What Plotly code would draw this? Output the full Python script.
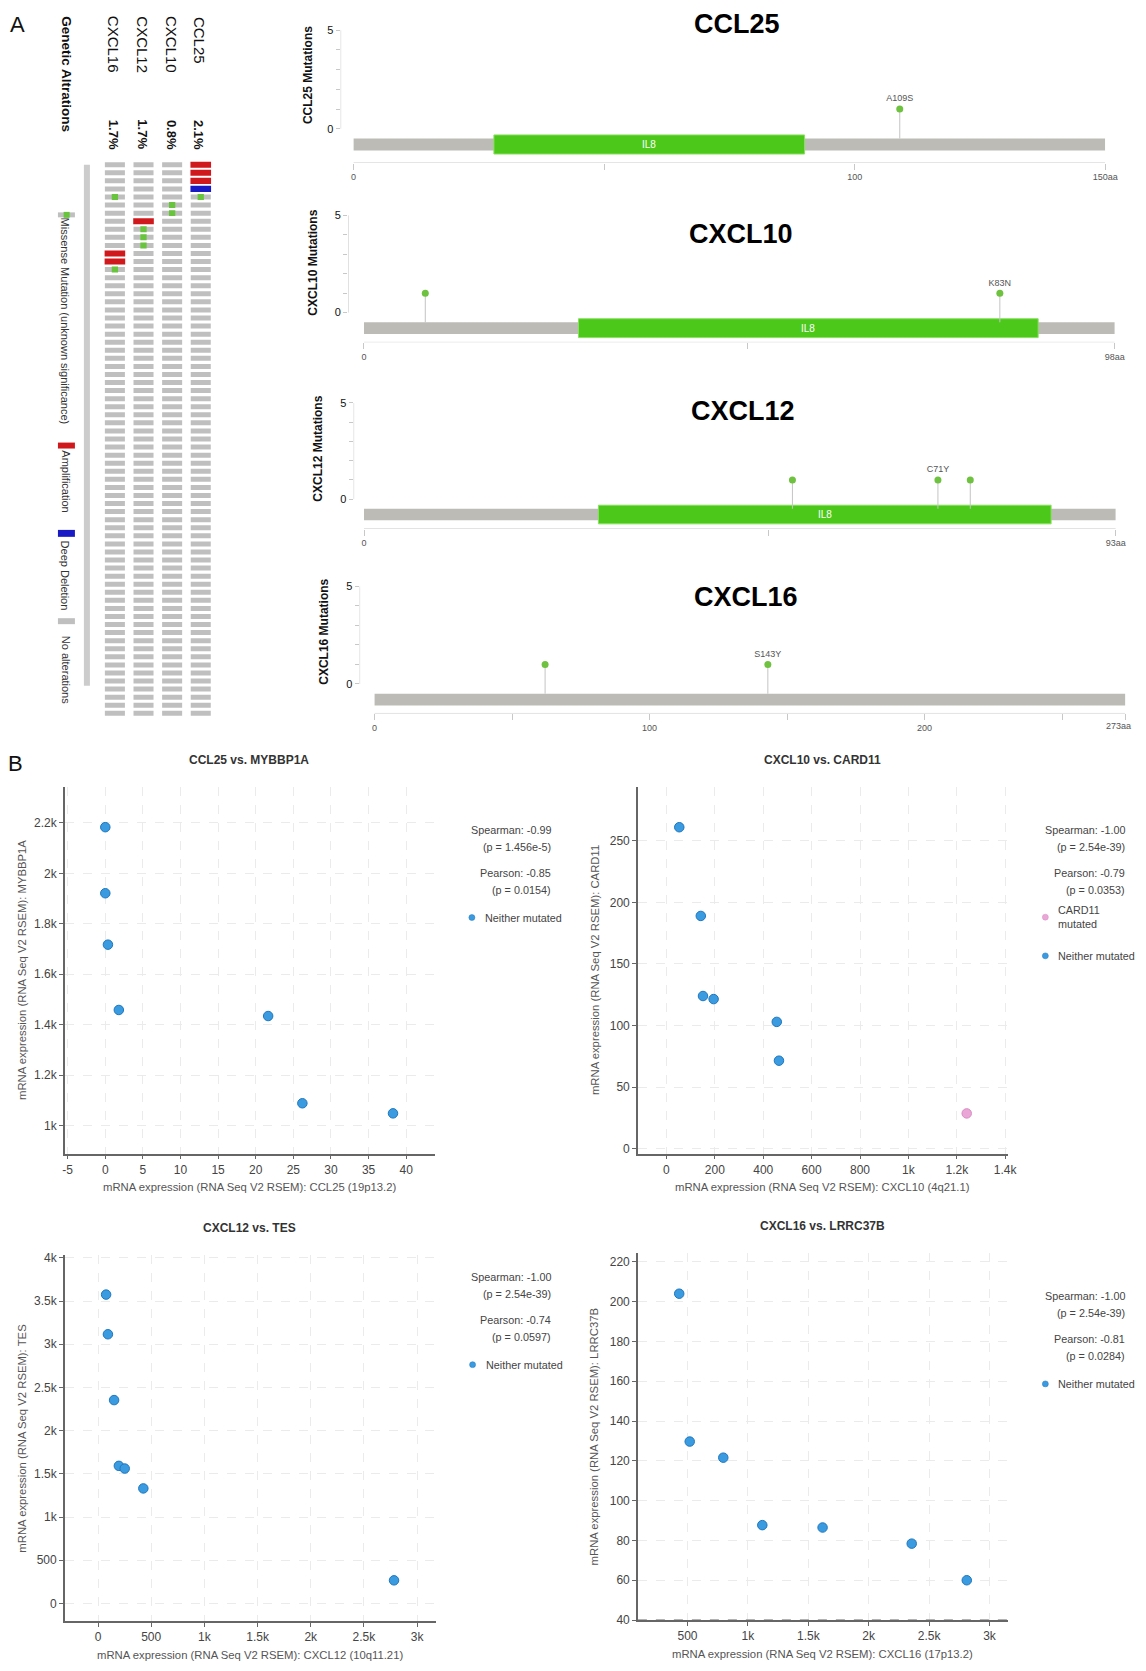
import plotly.graph_objects as go

W, H = 1146, 1671
FONT = "Liberation Sans, Arial, sans-serif"
KX = 1.0 / 0.988   # horizontal correction measured on the rendered page

# ------------------------------------------------------------------ data
onco_genes = ["CXCL16", "CXCL12", "CXCL10", "CCL25"]
onco_pct = ["1.7%", "1.7%", "0.8%", "2.1%"]
n_samples = 69
amp_gene = ["CCL25", "CCL25", "CCL25", "CXCL12", "CXCL16", "CXCL16"]
amp_sample = [0, 1, 2, 7, 11, 12]
del_gene = ["CCL25"]
del_sample = [3]
mis_gene = ["CCL25", "CXCL16", "CXCL10", "CXCL10", "CXCL12", "CXCL12", "CXCL12", "CXCL16"]
mis_sample = [4, 4, 5, 6, 8, 9, 10, 13]
onco_legend = ["Missense Mutation (unknown significance)", "Amplification",
               "Deep Deletion", "No alterations"]

lp_genes = ["CCL25", "CXCL10", "CXCL12", "CXCL16"]
lp_length = [150, 98, 93, 273]
lp_dom_start = [28, 28, 29, None]
lp_dom_end = [90, 88, 85, None]
lp_dom_name = ["IL8", "IL8", "IL8", None]
lp_mut_pos = [[109], [8, 83], [53, 71, 75], [62, 143]]
lp_mut_cnt = [[1], [1, 1], [1, 1, 1], [1, 1]]
lp_mut_lab = [["A109S"], ["", "K83N"], ["", "C71Y", ""], ["", "S143Y"]]
lp_xtick_vals = [[0, 50, 100, 150], [0, 50, 98], [0, 50, 93],
                 [0, 50, 100, 150, 200, 250, 273]]
lp_xtick_text = [["0", "", "100", "150aa"], ["0", "", "98aa"], ["0", "", "93aa"],
                 ["0", "", "100", "", "200", "", ""]]
lp_end_label = [None, None, None, "273aa"]
lp_ytick_vals = [0, 1, 2, 3, 4, 5]
lp_ytick_text = ["0", "", "", "", "", "5"]

sc_titles = ["CCL25 vs. MYBBP1A", "CXCL10 vs. CARD11", "CXCL12 vs. TES", "CXCL16 vs. LRRC37B"]
sc_xtitles = ["mRNA expression (RNA Seq V2 RSEM): CCL25 (19p13.2)",
              "mRNA expression (RNA Seq V2 RSEM): CXCL10 (4q21.1)",
              "mRNA expression (RNA Seq V2 RSEM): CXCL12 (10q11.21)",
              "mRNA expression (RNA Seq V2 RSEM): CXCL16 (17p13.2)"]
sc_ytitles = ["mRNA expression (RNA Seq V2 RSEM): MYBBP1A",
              "mRNA expression (RNA Seq V2 RSEM): CARD11",
              "mRNA expression (RNA Seq V2 RSEM): TES",
              "mRNA expression (RNA Seq V2 RSEM): LRRC37B"]
ccl25_expr = [0.0, 0.0, 0.35, 1.8, 21.65, 26.2, 38.25]
mybbp1a_expr = [2183, 1921, 1717, 1458, 1434, 1088, 1048]
cxcl10_expr = [53, 142, 151, 195, 456, 465]
card11_expr = [261, 189, 124, 121.5, 103, 71.5]
cxcl10_expr_card11mut = [1241]
card11_expr_card11mut = [28.7]
cxcl12_expr = [76, 93, 151, 196, 251, 426, 2783]
tes_expr = [3575, 3116, 2354, 1593, 1562, 1332, 268]
cxcl16_expr = [431, 518, 796, 1119, 1618, 2356, 2812]
lrrc37b_expr = [204, 129.7, 121.6, 87.7, 86.5, 78.4, 60]
sc_stats = [["Spearman: -0.99", "(p = 1.456e-5)", "Pearson: -0.85", "(p = 0.0154)"],
            ["Spearman: -1.00", "(p = 2.54e-39)", "Pearson: -0.79", "(p = 0.0353)"],
            ["Spearman: -1.00", "(p = 2.54e-39)", "Pearson: -0.74", "(p = 0.0597)"],
            ["Spearman: -1.00", "(p = 2.54e-39)", "Pearson: -0.81", "(p = 0.0284)"]]
sc_xtick_vals = [[-5, 0, 5, 10, 15, 20, 25, 30, 35, 40],
                 [0, 200, 400, 600, 800, 1000, 1200, 1400],
                 [0, 500, 1000, 1500, 2000, 2500, 3000],
                 [500, 1000, 1500, 2000, 2500, 3000]]
sc_xtick_text = [["-5", "0", "5", "10", "15", "20", "25", "30", "35", "40"],
                 ["0", "200", "400", "600", "800", "1k", "1.2k", "1.4k"],
                 ["0", "500", "1k", "1.5k", "2k", "2.5k", "3k"],
                 ["500", "1k", "1.5k", "2k", "2.5k", "3k"]]
sc_ytick_vals = [[1000, 1200, 1400, 1600, 1800, 2000, 2200],
                 [0, 50, 100, 150, 200, 250],
                 [0, 500, 1000, 1500, 2000, 2500, 3000, 3500, 4000],
                 [40, 60, 80, 100, 120, 140, 160, 180, 200, 220]]
sc_ytick_text = [["1k", "1.2k", "1.4k", "1.6k", "1.8k", "2k", "2.2k"],
                 ["0", "50", "100", "150", "200", "250"],
                 ["0", "500", "1k", "1.5k", "2k", "2.5k", "3k", "3.5k", "4k"],
                 ["40", "60", "80", "100", "120", "140", "160", "180", "200", "220"]]


# ------------------------------------------------------------------ helpers
def fx(p):
    return min(p * KX / W, 1.0)


def fy(p):
    return 1 - p / H


fig = go.Figure()
annotations = []
shapes = []
layout = dict(width=W, height=H, autosize=False, margin=dict(l=0, r=0, t=0, b=0, pad=0),
              paper_bgcolor="white", plot_bgcolor="white", showlegend=False,
              barmode="overlay", font=dict(family=FONT, color="#333"))


def ann(text, x, y, size=12, color="#333", xanchor="center", yanchor="middle",
        angle=0, bold=False, xref="paper", yref="paper", align="center"):
    annotations.append(dict(text=("<b>%s</b>" % text) if bold else text,
                            x=x, y=y, xref=xref, yref=yref, showarrow=False,
                            xanchor=xanchor, yanchor=yanchor, textangle=angle,
                            align=align, borderpad=0,
                            font=dict(family=FONT, size=size, color=color)))


def rect(x0, y0, x1, y1, color):
    shapes.append(dict(type="rect", xref="paper", yref="paper", x0=fx(x0), x1=fx(x1),
                       y0=fy(y1), y1=fy(y0), fillcolor=color, line=dict(width=0)))


# ------------------------------------------------------------------ Panel A: oncoprint
ann("A", fx(16), fy(19), size=22, color="#111")
ann("Genetic Altrations", fx(65), fy(68.7), size=13.5, color="#111", angle=90, bold=True)

col_px = [113, 142.5, 171, 199]
name_cy = [39, 39, 39, 35]
for g, p, cx, cy in zip(onco_genes, onco_pct, col_px, name_cy):
    ann(g, fx(cx - 2), fy(cy), size=15, color="#111", angle=90)
    ann(p, fx(cx - 2), fy(129.7), size=13, color="#111", angle=90, bold=True)

layout["xaxis"] = dict(domain=[fx(98.7), fx(213.3)], type="category",
                       categoryorder="array", categoryarray=onco_genes,
                       range=[-0.5, 3.5], visible=False)
layout["yaxis"] = dict(domain=[fy(716.9), fy(155.9)], range=[n_samples - 0.5, -0.5],
                       visible=False)

colored = set(zip(amp_gene, amp_sample)) | set(zip(del_gene, del_sample))
gx, gb = [], []
for g in onco_genes:
    for s in range(n_samples):
        if (g, s) not in colored:
            gx.append(g)
            gb.append(s - 0.31)
fig.add_trace(go.Bar(x=gx, y=[0.62] * len(gx), base=gb, width=0.7,
                     marker=dict(color="#bfbfbf", line=dict(width=0)), xaxis="x", yaxis="y"))
fig.add_trace(go.Bar(x=amp_gene, y=[0.76] * len(amp_gene), base=[s - 0.38 for s in amp_sample],
                     width=0.72, marker=dict(color="#d0191c", line=dict(width=0)),
                     xaxis="x", yaxis="y"))
fig.add_trace(go.Bar(x=del_gene, y=[0.76] * len(del_gene), base=[s - 0.38 for s in del_sample],
                     width=0.72, marker=dict(color="#1a1ac4", line=dict(width=0)),
                     xaxis="x", yaxis="y"))
fig.add_trace(go.Bar(x=mis_gene, y=[0.74] * len(mis_gene), base=[s - 0.37 for s in mis_sample],
                     width=0.22, marker=dict(color="#68c43c", line=dict(width=0)),
                     xaxis="x", yaxis="y"))

shapes.append(dict(type="line", xref="paper", yref="paper", x0=fx(85), x1=fx(85),
                   y0=fy(160), y1=fy(685), line=dict(color="#cccccc", width=6)))
rect(56, 208, 73, 213, "#bfbfbf")
rect(61.7, 207.5, 67.7, 213.5, "#68c43c")
rect(56, 440, 73, 446, "#d0191c")
rect(56, 528, 73, 535, "#1a1ac4")
rect(56, 617, 73, 623, "#bfbfbf")
leg_cy = [318, 479, 574, 669]
for t, cy in zip(onco_legend, leg_cy):
    ann(t, fx(64), fy(cy), size=11, color="#333", angle=90)

# ------------------------------------------------------------------ Panel A: lollipops
lp_geo = [
    dict(x0=352.0, x1=1104.4, y0=123.7, unit=19.84, yax=157.8, yx=339.0,
         title=(735.6, 18.5), ylab=(307, 70)),
    dict(x0=362.4, x1=1114.0, y0=309.0, unit=19.6, yax=339.0, yx=346.5,
         title=(740, 229.5), ylab=(311, 259)),
    dict(x0=362.4, x1=1115.0, y0=497.0, unit=19.4, yax=526.6, yx=352.0,
         title=(742, 408), ylab=(315.5, 446)),
    dict(x0=373.0, x1=1124.6, y0=683.3, unit=19.66, yax=713.0, yx=358.0,
         title=(745, 596), ylab=(322, 631)),
]
bar_c = -0.8
for i, g in enumerate(lp_genes):
    k = i + 2
    geo = lp_geo[i]
    L = lp_length[i]
    scale = (geo["x1"] - geo["x0"]) / L
    xr0 = -(geo["x0"] - geo["yx"]) / scale
    ymin = -(geo["yax"] - geo["y0"]) / geo["unit"]
    ymax = 5.03
    top_px = geo["y0"] - ymax * geo["unit"]
    layout["xaxis%d" % k] = dict(domain=[fx(geo["yx"]), fx(geo["x1"])], range=[xr0, L],
                                 anchor="y%d" % k, showline=False,
                                 ticks="outside", ticklen=6, tickcolor="#c8c8c8",
                                 tickvals=lp_xtick_vals[i], ticktext=lp_xtick_text[i],
                                 tickfont=dict(size=9, color="#555"), showgrid=False,
                                 zeroline=False)
    layout["yaxis%d" % k] = dict(domain=[fy(geo["yax"]), fy(top_px)], range=[ymin, ymax],
                                 anchor="x%d" % k, showline=False,
                                 ticks="outside", ticklen=4, tickcolor="#c8c8c8",
                                 tickvals=lp_ytick_vals, ticktext=lp_ytick_text,
                                 tickfont=dict(size=11, color="#111",
                                               family="Liberation Sans Narrow, " + FONT),
                                 showgrid=False, zeroline=False)
    shapes.append(dict(type="line", xref="x%d" % k, yref="y%d" % k, x0=xr0, x1=xr0,
                       y0=0, y1=5, line=dict(color="#c8c8c8", width=1)))
    shapes.append(dict(type="line", xref="x%d" % k, yref="y%d" % k, x0=0, x1=L,
                       y0=ymin, y1=ymin, line=dict(color="#c8c8c8", width=1)))
    if lp_end_label[i]:
        ann(lp_end_label[i], 0.9995, fy(geo["yax"] + 13), size=9, color="#555",
            xanchor="right")
    fig.add_trace(go.Bar(orientation="h", x=[L], base=[0], y=[bar_c], width=0.6,
                         marker=dict(color="#bcbbb6", line=dict(width=0)),
                         xaxis="x%d" % k, yaxis="y%d" % k))
    if lp_dom_start[i] is not None:
        fig.add_trace(go.Bar(orientation="h", x=[lp_dom_end[i] - lp_dom_start[i]],
                             base=[lp_dom_start[i]], y=[bar_c], width=0.97,
                             marker=dict(color="#4cc81a", line=dict(color="#8be060", width=1)),
                             xaxis="x%d" % k, yaxis="y%d" % k))
        ann(lp_dom_name[i], (lp_dom_start[i] + lp_dom_end[i]) / 2, bar_c, size=10,
            color="white", xref="x%d" % k, yref="y%d" % k)
    sx, sy = [], []
    for p, c in zip(lp_mut_pos[i], lp_mut_cnt[i]):
        sx += [p, p, None]
        sy += [bar_c + 0.3, c, None]
    fig.add_trace(go.Scatter(x=sx, y=sy, mode="lines", line=dict(color="#c4c4c4", width=1),
                             xaxis="x%d" % k, yaxis="y%d" % k))
    fig.add_trace(go.Scatter(x=lp_mut_pos[i], y=lp_mut_cnt[i], mode="markers+text",
                             text=lp_mut_lab[i], textposition="top center",
                             textfont=dict(size=9, color="#555"),
                             marker=dict(color="#6fc23f", size=7),
                             xaxis="x%d" % k, yaxis="y%d" % k))
    ann(g, fx(geo["title"][0]), fy(geo["title"][1]), size=27, color="#000", bold=True)
    ann(g + " Mutations", fx(geo["ylab"][0]), fy(geo["ylab"][1]), size=12, color="#111",
        angle=-90, bold=True)

# ------------------------------------------------------------------ Panel B: scatter plots
ann("B", fx(14), fy(763), size=22, color="#111")

sc_dom = [((62.9, 433.0), (786.7, 1156.7)), ((636.6, 1007.2), (786.7, 1156.7)),
          ((62.9, 434.2), (1258.3, 1627.7)), ((636.6, 1007.2), (1256.7, 1626.7))]
sc_xr = [[-5.38, 43.77], [-118, 1412], [-312, 3175], [89, 3154]]
sc_yr = [[888, 2344], [-4, 294], [-203, 4039], [40, 224.5]]
sc_x = [ccl25_expr, cxcl10_expr, cxcl12_expr, cxcl16_expr]
sc_y = [mybbp1a_expr, card11_expr, tes_expr, lrrc37b_expr]
stat_x = [551, 1125.6, 551, 1125.6]
stat_y = [830, 830, 1281, 1300]
leg_pos = [(470.4, 918.7), (1044.5, 957.3), (471.1, 1369.3), (1044.5, 1388.7)]

BLUE = "#3a9be0"
BLUE_L = "#1f77be"
PINK = "#eaa6d7"
PINK_L = "#d98cc4"

for i in range(4):
    k = i + 6
    (xa, xb), (ya, yb) = sc_dom[i]
    layout["xaxis%d" % k] = dict(domain=[fx(xa), fx(xb)], range=sc_xr[i], anchor="y%d" % k,
                                 showline=True, linecolor="#666", linewidth=1.5,
                                 ticks="outside", ticklen=4, tickcolor="#666",
                                 tickvals=sc_xtick_vals[i], ticktext=sc_xtick_text[i],
                                 tickfont=dict(size=12, color="#444"),
                                 showgrid=True, gridcolor="#ebebeb", griddash="dash",
                                 zeroline=False)
    layout["yaxis%d" % k] = dict(domain=[fy(yb), fy(ya)], range=sc_yr[i], anchor="x%d" % k,
                                 showline=True, linecolor="#666", linewidth=1.5,
                                 ticks="outside", ticklen=4, tickcolor="#666",
                                 tickvals=sc_ytick_vals[i], ticktext=sc_ytick_text[i],
                                 tickfont=dict(size=12, color="#444"),
                                 showgrid=True, gridcolor="#ebebeb", griddash="dash",
                                 zeroline=False)
    fig.add_trace(go.Scatter(x=sc_x[i], y=sc_y[i], mode="markers",
                             marker=dict(color=BLUE, size=9.5, line=dict(color=BLUE_L, width=1)),
                             xaxis="x%d" % k, yaxis="y%d" % k))
    if i == 1:
        fig.add_trace(go.Scatter(x=cxcl10_expr_card11mut, y=card11_expr_card11mut, mode="markers",
                                 marker=dict(color=PINK, size=9.5, line=dict(color=PINK_L, width=1)),
                                 xaxis="x%d" % k, yaxis="y%d" % k))
    if i == 3:
        shapes.append(dict(type="line", xref="x%d" % k, yref="y%d" % k, x0=sc_xr[i][0],
                           x1=sc_xr[i][1], y0=40, y1=40,
                           line=dict(color="#999", width=1.5, dash="dash")))
    cx = (xa + xb) / 2
    ann(sc_titles[i], fx(cx - 0.5), fy(ya - 27), size=12, color="#333", bold=True)
    ann(sc_xtitles[i], fx(cx), fy(yb + 34), size=11.3, color="#555")
    ann(sc_ytitles[i], fx(xa - 43), fy((ya + yb) / 2), size=11.3, color="#555", angle=-90)
    offs = [0, 17.3, 43.3, 60.7]
    for t, o in zip(sc_stats[i], offs):
        ann(t, fx(stat_x[i]), fy(stat_y[i] + o), size=10.8, color="#444", xanchor="right")
    lx, ly = leg_pos[i]
    shapes.append(dict(type="circle", xref="paper", yref="paper", x0=fx(lx - 3), x1=fx(lx + 3),
                       y0=fy(ly + 3), y1=fy(ly - 3), fillcolor=BLUE, line=dict(color=BLUE_L, width=0.5)))
    ann("Neither mutated", fx(lx + 12), fy(ly), size=10.8, color="#444", xanchor="left")
    if i == 1:
        shapes.append(dict(type="circle", xref="paper", yref="paper", x0=fx(lx - 3), x1=fx(lx + 3),
                           y0=fy(918.3 + 3), y1=fy(918.3 - 3), fillcolor=PINK,
                           line=dict(color=PINK_L, width=0.5)))
        ann("CARD11<br>mutated", fx(lx + 12), fy(918.3), size=10.8, color="#444",
            xanchor="left", align="left")

layout["annotations"] = annotations
layout["shapes"] = shapes
fig.update_layout(**layout)
fig.write_html("out.html")
